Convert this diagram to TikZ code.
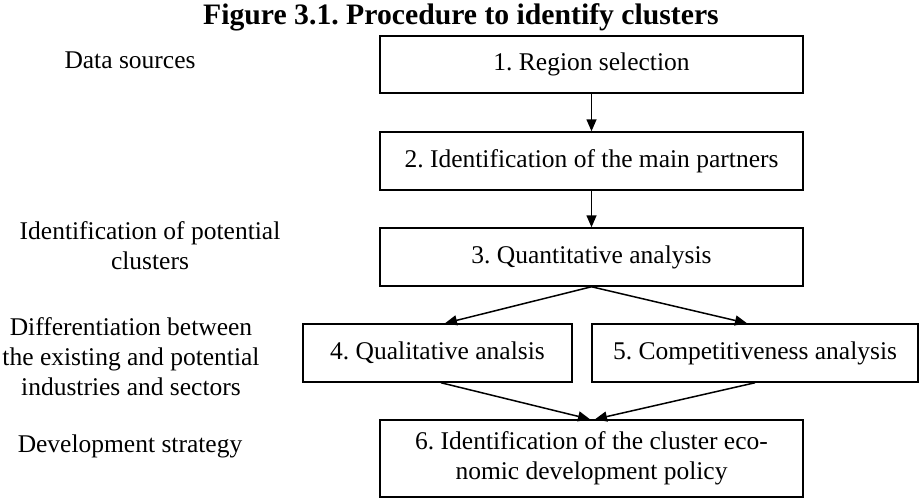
\documentclass[tikz,border=0pt]{standalone}
\usepackage{fontspec}
\setmainfont{Liberation Serif}
\usetikzlibrary{arrows.meta}
\begin{document}
\frenchspacing
\begin{tikzpicture}[x=0.5pt,y=-0.5pt,
  box/.style={draw, line width=0.75pt, minimum width=211.5pt, minimum height=29pt, inner sep=0pt, align=center, font=\fontsize{12.75pt}{15pt}\selectfont},
  lab/.style={align=center, inner sep=0pt, font=\fontsize{12.75pt}{15pt}\selectfont},
  arr/.style={-{Triangle[length=6pt,width=5pt]}, line width=0.75pt}]
\useasboundingbox (0,0) rectangle (919,498);
\node[anchor=base, inner sep=0pt, font=\fontsize{14.85pt}{17pt}\selectfont\bfseries] (title) at (461,25) {Figure 3.1. Procedure to identify clusters};

\node[box, minimum height=28.5pt] (n1) at (591.5,64.5) {1. Region selection};
\node[box] (n2) at (591.5,161) {2. Identification of the main partners};
\node[box] (n3) at (591.5,257) {3. Quantitative analysis};
\node[box, minimum width=134.5pt] (n4) at (437.5,353) {4. Qualitative analsis};
\node[box, minimum width=163pt] (n5) at (755,353) {5. Competitiveness analysis};
\node[box, minimum height=38.5pt] (n6) at (591.5,458.5) {6. Identification of the cluster eco-\\nomic development policy};

\node[lab, anchor=base] (l1) at (130,68) {Data sources};
\node[lab] (l2) at (150,246) {Identification of potential\\clusters};
\node[lab] (l3) at (131,357) {Differentiation between\\the existing and potential\\industries and sectors};
\node[lab, anchor=base] (l4) at (130,452) {Development strategy};

\draw[arr] (n1.south) -- (n2.north);
\draw[arr] (n2.south) -- (n3.north);
\draw[arr] (n3.south) -- ([xshift=3.75pt]n4.north);
\draw[arr] (n3.south) -- ([xshift=-4pt]n5.north);
\draw[arr] ([xshift=1.75pt]n4.south) -- ([xshift=-0.75pt]n6.north);
\draw[arr] (n5.south) -- ([xshift=1.75pt]n6.north);
\end{tikzpicture}
\end{document}
